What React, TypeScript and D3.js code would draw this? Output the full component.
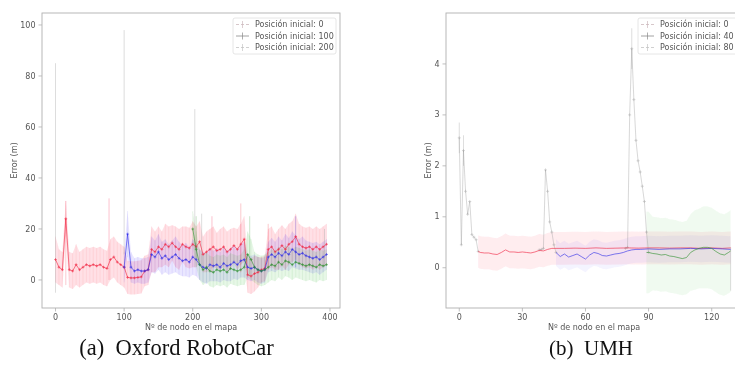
import React from 'react';
import * as d3 from 'd3';

// ---------- Left panel (Oxford RobotCar) ----------
const L_NODES = [0,5,10,15,20,25,30,35,40,45,50,55,60,65,70,75,80,85,90,95,100,105,110,115,120,125,130,135,140,145,150,155,160,165,170,175,180,185,190,195,200,205,210,215,220,225,230,235,240,245,250,255,260,265,270,275,280,285,290,295,300,305,310,315,320,325,330,335,340,345,350,355,360,365,370,375,380,385,390,395];
const L_RED = [8,5,4,24,4,3.5,6,4,5,6,5.5,6,5.5,6,5,4.5,8,9,7,6,5,1,0.8,0.8,1,1.2,3.5,4,12,11,13,12,14,13,14.5,13,12,14,13,12.5,14,13,15,10,11,12,13,11.5,12,13,11,12,13.5,12,14,16,2,1.5,2.5,3,4,4.5,12,13,11,12,13.5,12,14,15,17,14,13,12.5,13,12,13,12,13,14];
const L_RED_SD = [9,7,7,7,7,7,8,7,7,7,7,7,7,7,7,7,8,8,8,8,8,6.5,6.5,6.5,6.5,6.5,6,6,9,8,8,7,8,8,7,8,8,7,8,8,9,8,8,7,8,8,8,7,8,8,8,8,7,8,8,9,7,7,7,6,5,5,8,8,7,8,8,8,8,8,9,8,8,8,8,8,8,8,8,8];
const L_BLUE_START = 100;
const L_BLUE = [5,18,5,3.5,4,3.5,3.5,4,10,9,11,8.5,9.5,8,9,10,8.5,7.5,8,7,9,8,6,5,4.5,6,5.5,6,5,6.5,5.5,6,7,6,7.5,8,5,4.5,5,4,3.5,4,9,10,9,10.5,9.5,11,10,12,11,10,10.5,9.5,9,8.5,9,8,9,10];
const L_BLUE_SD = [6,9,6,5,5,5,5,5,7,6.5,7,6.5,6.5,6,6.5,7,6.5,6,6.5,6,7,6.5,6,6,6,6.5,6,6.5,6,6.5,6,6.5,6.5,6,6.5,7,5,5,5,5,5,5,6,6.5,6,6.5,6,7,6.5,7,6.5,6,6.5,6,6,6,6,6,6,6];
const L_GREEN_START = 200;
const L_GREEN = [20,12,6,4,5,3.5,3,4,3.5,4,3,4.5,4,3.5,4,5,10,8,5,4,3.5,4,5,6,5.5,7,6,7.5,7,6,7,6.5,6,5.5,6,5.5,5,6,5.5,6];
const L_GREEN_SD = [7,7,6,6,6,6,6,6,6,6,6,6,6,6,6,7,9,8,6,6,6,6,6,6,6,6,6,6,6,6,6,6,6,6,6,6,6,6,6,6];
const L_SPIKE_NODES = [0,15,78,100,203,205,213,228,270,283,310,350,392];
const L_SPIKE_LOW = [-5,-2,0,10,5,8,5,3,3,2,5,5,5];
const L_SPIKE_HIGH = [85,31,32,98,67,25,26,25,30,25,22,25,20];
const L_SPIKE_KIND = [3,0,0,3,3,2,3,0,0,2,0,1,3];
const L_X_TICKS = [0,100,200,300,400];
const L_Y_TICKS = [0,20,40,60,80,100];
const L_LEGEND = ['Posición inicial: 0','Posición inicial: 100','Posición inicial: 200'];

// ---------- Right panel (UMH) ----------
const R_RED_GRAY_NODES = [0,1,2,3,4,5,6,7,8,9];
const R_RED_GRAY = [2.55,0.45,2.3,1.5,1.05,1.3,0.65,0.6,0.55,0.32];
const R_RED_NODES = [9,10,12,14,16,18,20,22,24,26,28,30,32,34,36,38,40,42,44,46,50,55,60,65,70,75,80,85,90,95,100,105,110,115,120,125,129];
const R_RED = [0.32,0.3,0.29,0.29,0.27,0.26,0.3,0.35,0.31,0.31,0.3,0.31,0.3,0.29,0.31,0.34,0.33,0.36,0.38,0.38,0.38,0.385,0.38,0.39,0.38,0.385,0.39,0.385,0.39,0.39,0.385,0.39,0.39,0.38,0.39,0.38,0.39];
const R_RED_SD = [0.32,0.32,0.32,0.32,0.32,0.32,0.32,0.32,0.32,0.32,0.32,0.32,0.32,0.32,0.32,0.32,0.32,0.32,0.32,0.32,0.32,0.32,0.32,0.32,0.32,0.32,0.32,0.32,0.32,0.32,0.32,0.32,0.32,0.32,0.32,0.32,0.32];
const R_BLUE_GRAY_NODES = [38,39,40,41,42,43,44,45,46];
const R_BLUE_GRAY = [0.35,0.36,0.38,1.92,1.5,0.9,0.7,0.45,0.3];
const R_BLUE_NODES = [46,48,50,52,54,56,58,60,62,64,66,68,70,72,74,76,78,80,82,84,86,90,95,100,105,110,115,120,125,129];
const R_BLUE = [0.3,0.22,0.27,0.21,0.24,0.27,0.22,0.17,0.25,0.3,0.28,0.24,0.23,0.25,0.27,0.28,0.3,0.33,0.35,0.36,0.36,0.37,0.36,0.37,0.37,0.38,0.37,0.38,0.37,0.36];
const R_BLUE_SD = [0.26,0.26,0.26,0.26,0.26,0.26,0.26,0.26,0.26,0.26,0.26,0.26,0.26,0.26,0.26,0.26,0.26,0.26,0.26,0.26,0.26,0.26,0.26,0.26,0.26,0.26,0.26,0.26,0.26,0.26];
const R_GREEN_GRAY_NODES = [79,80,81,82,83,84,85,86,87,88,89,90];
const R_GREEN_GRAY = [0.38,0.4,3.0,4.3,3.3,2.5,2.1,1.88,1.6,1.3,0.7,0.3];
const R_GREEN_NODES = [89,90,92,94,96,98,100,102,104,106,108,110,112,114,116,118,120,122,124,126,128,129];
const R_GREEN = [0.3,0.3,0.28,0.27,0.25,0.26,0.23,0.22,0.2,0.18,0.2,0.3,0.35,0.38,0.4,0.4,0.38,0.32,0.27,0.25,0.3,0.33];
const R_GREEN_SD = [0.8,0.8,0.72,0.72,0.72,0.72,0.72,0.72,0.72,0.72,0.72,0.75,0.78,0.78,0.8,0.8,0.8,0.8,0.8,0.8,0.8,0.8];
const R_SPIKE_NODES = [0,2,82,129];
const R_SPIKE_LOW = [2.25,2.0,3.9,-0.45];
const R_SPIKE_HIGH = [2.85,2.6,4.7,0.4];
const R_SPIKE_KIND = [3,3,3,3];
const R_X_TICKS = [0,30,60,90,120];
const R_Y_TICKS = [0,1,2,3,4];
const R_LEGEND = ['Posición inicial: 0','Posición inicial: 40','Posición inicial: 80'];

const CAPTIONS = ['(a)  Oxford RobotCar', '(b)  UMH'];

const COLORS = ['#f0203c', '#2828e8', '#2a8f2a', '#8a8a8a'];
const BAND = ['#ff4060', '#6a50ff', '#40c040'];
const LEGEND_HANDLE = ['#cdb9bd', '#8a8a8a', '#c4c4c4'];

type Series = {
  nodes: number[]; mean: number[]; sd: number[];
  grayNodes?: number[]; gray?: number[];
};

function fromStart(start: number, vals: number[]) {
  return L_NODES.filter((n) => n >= start).slice(0, vals.length);
}

const FONT = 'DejaVu Sans, sans-serif';

function Plus({ x, y, s, color, op }: { x: number; y: number; s: number; color: string; op: number }) {
  return (
    <g stroke={color} strokeWidth={0.7} opacity={op}>
      <line x1={x - s} x2={x + s} y1={y} y2={y} />
      <line x1={x} x2={x} y1={y - s} y2={y + s} />
    </g>
  );
}

function Panel(props: {
  id: string; left: number; right: number; top: number; bottom: number;
  xDomain: [number, number]; yDomain: [number, number];
  xTicks: number[]; yTicks: number[]; series: Series[];
  spikeNodes: number[]; spikeLow: number[]; spikeHigh: number[]; spikeKind: number[];
  legend: string[]; legendLeft: number; pointBars: boolean; markers: boolean;
  bandOpacity: number[]; yLabelOffset: number;
}) {
  const { id, left, right, top, bottom } = props;
  const x = d3.scaleLinear().domain(props.xDomain).range([left, right]);
  const y = d3.scaleLinear().domain(props.yDomain).range([bottom, top]);
  const line = d3.line<[number, number]>().x((d) => x(d[0])).y((d) => y(d[1]));
  const area = d3.area<[number, number, number]>().x((d) => x(d[0])).y0((d) => y(d[1] - d[2])).y1((d) => y(d[1] + d[2]));
  const tickColor = '#555';
  return (
    <g>
      <defs>
        <clipPath id={id}>
          <rect x={left} y={top} width={right - left} height={bottom - top} />
        </clipPath>
      </defs>
      <g clipPath={`url(#${id})`}>
        <g filter="url(#soft)">
          {props.series.map((s, i) => {
            const pts = s.nodes.map((n, k) => [n, s.mean[k], s.sd[k]] as [number, number, number]);
            return <path key={'b' + i} d={area(pts) || ''} fill={BAND[i]} opacity={props.bandOpacity[i]} stroke="none" />;
          })}
          {props.pointBars && props.series.map((s, i) => (
            <g key={'e' + i} stroke={COLORS[i]} strokeWidth={0.6} opacity={0.12}>
              {s.nodes.map((n, k) => (
                <line key={k} x1={x(n)} x2={x(n)} y1={y(s.mean[k] - s.sd[k])} y2={y(s.mean[k] + s.sd[k])} />
              ))}
            </g>
          ))}
          {props.spikeNodes.map((n, k) => (
            <line key={'s' + k} x1={x(n)} x2={x(n)} y1={y(props.spikeLow[k])} y2={y(props.spikeHigh[k])}
              stroke={props.spikeKind[k] === 3 ? '#a0a0a0' : COLORS[props.spikeKind[k]]}
              strokeWidth={0.8} opacity={props.spikeKind[k] === 3 ? 0.45 : 0.3} />
          ))}
          {props.series.map((s, i) => s.grayNodes ? (
            <g key={'g' + i}>
              <path d={line(s.grayNodes.map((n, k) => [n, s.gray![k]] as [number, number])) || ''} fill="none" stroke="#a0a0a0" strokeWidth={0.7} opacity={0.6} />
              {s.grayNodes.map((n, k) => (
                <Plus key={k} x={x(n)} y={y(s.gray![k])} s={1.5} color="#999" op={0.55} />
              ))}
            </g>
          ) : null)}
          {props.series.map((s, i) => (
            <g key={'l' + i}>
              <path d={line(s.nodes.map((n, k) => [n, s.mean[k]] as [number, number])) || ''} fill="none" stroke={COLORS[i]} strokeWidth={0.8} opacity={0.75} />
              {props.markers && s.nodes.map((n, k) => (
                <Plus key={k} x={x(n)} y={y(s.mean[k])} s={1.4} color={COLORS[i]} op={0.8} />
              ))}
            </g>
          ))}
        </g>
      </g>
      <rect x={left} y={top} width={right - left} height={bottom - top} fill="none" stroke="#b0b0b0" strokeWidth={0.9} />
      {props.xTicks.map((t) => (
        <g key={'xt' + t}>
          <line x1={x(t)} x2={x(t)} y1={bottom} y2={bottom + 3.5} stroke="#b0b0b0" strokeWidth={0.8} />
          <text x={x(t)} y={bottom + 12} fontSize={8} fontFamily={FONT} fill={tickColor} textAnchor="middle">{t}</text>
        </g>
      ))}
      {props.yTicks.map((t) => (
        <g key={'yt' + t}>
          <line x1={left - 3.5} x2={left} y1={y(t)} y2={y(t)} stroke="#b0b0b0" strokeWidth={0.8} />
          <text x={left - 6.5} y={y(t)} dy="0.32em" fontSize={8} fontFamily={FONT} fill={tickColor} textAnchor="end">{t}</text>
        </g>
      ))}
      <text x={(left + right) / 2} y={bottom + 22} fontSize={8} fontFamily={FONT} fill={tickColor} textAnchor="middle">Nº de nodo en el mapa</text>
      <text transform={`translate(${left - props.yLabelOffset},${(top + bottom) / 2}) rotate(-90)`} fontSize={8} fontFamily={FONT} fill={tickColor} textAnchor="middle">Error (m)</text>
      <g>
        <rect x={props.legendLeft} y={top + 5} width={right - 4 - props.legendLeft} height={36} rx={2} fill="#fff" fillOpacity={0.8} stroke="#e0e0e0" strokeWidth={0.8} />
        {props.legend.map((lab, i) => {
          const cy = top + 11.5 + i * 11.5;
          const hx = props.legendLeft + 3;
          return (
            <g key={'lg' + i}>
              <line x1={hx} x2={hx + 13} y1={cy} y2={cy} stroke={LEGEND_HANDLE[i]} strokeWidth={0.8} strokeDasharray={i === 1 ? '' : '3,2'} />
              <line x1={hx + 6.5} x2={hx + 6.5} y1={cy - 3.5} y2={cy + 3.5} stroke={LEGEND_HANDLE[i]} strokeWidth={0.7} />
              <text x={hx + 19} y={cy} dy="0.33em" fontSize={8} fontFamily={FONT} fill="#555">{lab}</text>
            </g>
          );
        })}
      </g>
    </g>
  );
}

export default function App() {
  const leftSeries: Series[] = [
    { nodes: L_NODES, mean: L_RED, sd: L_RED_SD },
    { nodes: fromStart(L_BLUE_START, L_BLUE), mean: L_BLUE, sd: L_BLUE_SD },
    { nodes: fromStart(L_GREEN_START, L_GREEN), mean: L_GREEN, sd: L_GREEN_SD },
  ];
  const rightSeries: Series[] = [
    { nodes: R_RED_NODES, mean: R_RED, sd: R_RED_SD, grayNodes: R_RED_GRAY_NODES, gray: R_RED_GRAY },
    { nodes: R_BLUE_NODES, mean: R_BLUE, sd: R_BLUE_SD, grayNodes: R_BLUE_GRAY_NODES, gray: R_BLUE_GRAY },
    { nodes: R_GREEN_NODES, mean: R_GREEN, sd: R_GREEN_SD, grayNodes: R_GREEN_GRAY_NODES, gray: R_GREEN_GRAY },
  ];
  return (
    <svg width={735} height={385} style={{ position: 'absolute', left: 0, top: 0, background: '#fff' }}>
      <defs>
        <filter id="soft" x="-5%" y="-5%" width="110%" height="110%">
          <feGaussianBlur stdDeviation="0.45" />
        </filter>
      </defs>
      <rect x={0} y={0} width={735} height={385} fill="#fff" />
      <Panel id="clipL" left={42} right={340} top={13} bottom={308}
        xDomain={[-19.7, 414.6]} yDomain={[-11, 104.7]} xTicks={L_X_TICKS} yTicks={L_Y_TICKS}
        series={leftSeries} spikeNodes={L_SPIKE_NODES} spikeLow={L_SPIKE_LOW} spikeHigh={L_SPIKE_HIGH} spikeKind={L_SPIKE_KIND}
        legend={L_LEGEND} legendLeft={233} pointBars={true} markers={true} bandOpacity={[0.16, 0.14, 0.13]} yLabelOffset={25} />
      <Panel id="clipR" left={446} right={742} top={13} bottom={308}
        xDomain={[-6.3, 134.4]} yDomain={[-0.79, 5.0]} xTicks={R_X_TICKS} yTicks={R_Y_TICKS}
        series={rightSeries} spikeNodes={R_SPIKE_NODES} spikeLow={R_SPIKE_LOW} spikeHigh={R_SPIKE_HIGH} spikeKind={R_SPIKE_KIND}
        legend={R_LEGEND} legendLeft={638} pointBars={false} markers={false} bandOpacity={[0.1, 0.07, 0.08]} yLabelOffset={15} />
      <text x={176.5} y={355} fontSize={22.5} fontFamily="Liberation Serif, Times New Roman, serif" fill="#111" textAnchor="middle" style={{ whiteSpace: 'pre' }}>{CAPTIONS[0]}</text>
      <text x={591} y={355} fontSize={21} fontFamily="Liberation Serif, Times New Roman, serif" fill="#111" textAnchor="middle" style={{ whiteSpace: 'pre' }}>{CAPTIONS[1]}</text>
    </svg>
  );
}
